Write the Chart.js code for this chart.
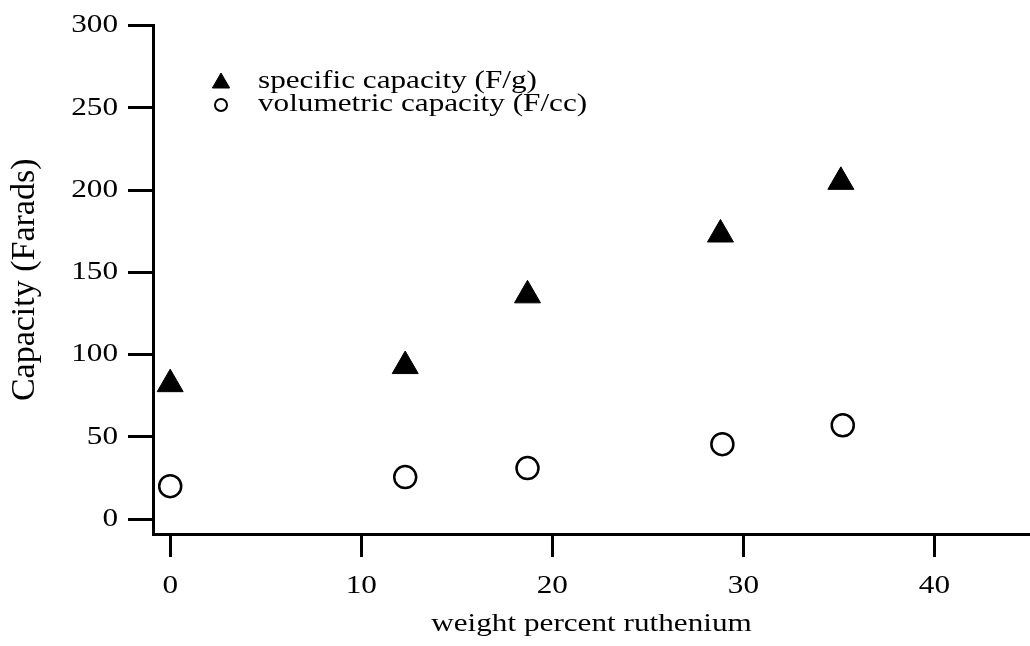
<!DOCTYPE html>
<html>
<head>
<meta charset="utf-8">
<script src="https://cdn.jsdelivr.net/npm/chart.js@4/dist/chart.umd.min.js"></script>
<style>
  html, body { margin: 0; padding: 0; background: #fff; }
  #wrap { width: 1030px; height: 646px; }
</style>
</head>
<body>
<div id="wrap"><canvas id="capChart" width="1030" height="646"></canvas></div>
<script>
// values
const ruSpecific = [0, 12.3, 18.7, 28.8, 35.1];
const specificCap = [82, 93, 136, 173, 205];
const ruVolumetric = [0, 12.3, 18.7, 28.9, 35.2];
const volumetricCap = [20, 25.5, 31, 45.5, 57];

const xTicks = [0, 10, 20, 30, 40];
const yTicks = [0, 50, 100, 150, 200, 250, 300];

const seriesNames = ['specific capacity (F/g)', 'volumetric capacity (F/cc)'];

const FONT = "'Liberation Serif', 'Times New Roman', serif";
const STRETCH = 1.2; // the scanned figure's horizontal text is wide

function toPoints(xs, ys) {
    return xs.map((x, i) => ({ x: x, y: ys[i] }));
}

const canvas = document.getElementById('capChart');
const ctx2d = canvas.getContext('2d');

// widen horizontal text around its anchor, leave rotated text alone
const plainFillText = ctx2d.fillText.bind(ctx2d);
ctx2d.fillText = function (text, x, y, maxWidth) {
    const m = this.getTransform();
    if (Math.abs(m.b) > 1e-6 || Math.abs(m.c) > 1e-6) {
        return plainFillText(text, x, y, maxWidth);
    }
    const p = m.transformPoint(new DOMPoint(x, y));
    this.save();
    this.setTransform(new DOMMatrix().translate(p.x, p.y).scale(STRETCH, 1).translate(-p.x, -p.y).multiply(m));
    plainFillText(text, x, y, maxWidth);
    this.restore();
};

// legend drawn inside the plot, top-left
const insideLegend = {
    id: 'insideLegend',
    afterDraw(chart) {
        const ctx = chart.ctx;
        const rows = [
            { y: 83, textY: 88, style: { pointStyle: 'triangle', radius: 10, rotation: 0, borderWidth: 1 }, fill: '#000' },
            { y: 105, textY: 111, style: { pointStyle: 'circle', radius: 6, rotation: 0, borderWidth: 2 }, fill: '#fff' }
        ];
        ctx.save();
        rows.forEach((r, i) => {
            ctx.fillStyle = r.fill;
            ctx.strokeStyle = '#000';
            ctx.lineWidth = r.style.borderWidth;
            Chart.helpers.drawPoint(ctx, r.style, 221, r.y);
            ctx.fillStyle = '#000';
            ctx.font = '26px ' + FONT;
            ctx.textAlign = 'left';
            ctx.textBaseline = 'alphabetic';
            ctx.fillText(seriesNames[i], 258, r.textY);
        });
        ctx.restore();
    }
};

new Chart(canvas, {
    type: 'scatter',
    data: {
        datasets: [
            {
                label: seriesNames[0],
                data: toPoints(ruSpecific, specificCap),
                pointStyle: 'triangle',
                pointRadius: 15,
                pointBackgroundColor: '#000',
                pointBorderColor: '#000',
                pointBorderWidth: 1
            },
            {
                label: seriesNames[1],
                data: toPoints(ruVolumetric, volumetricCap),
                pointStyle: 'circle',
                pointRadius: 11,
                pointBackgroundColor: '#fff',
                pointBorderColor: '#000',
                pointBorderWidth: 2.5
            }
        ]
    },
    options: {
        responsive: false,
        animation: false,
        layout: {
            autoPadding: false,
            padding: { top: 25, right: 0, bottom: 0, left: 0 }
        },
        plugins: {
            legend: { display: false },
            tooltip: { enabled: false }
        },
        scales: {
            x: {
                type: 'linear',
                min: -0.9,
                max: 45,
                afterBuildTicks: (scale) => { scale.ticks = xTicks.map(v => ({ value: v })); },
                afterFit: (scale) => { scale.height = 112; },
                border: { display: true, color: '#000', width: 3 },
                grid: {
                    drawOnChartArea: false,
                    drawTicks: true,
                    tickLength: 23,
                    tickWidth: 3,
                    tickColor: '#000'
                },
                ticks: {
                    color: '#000',
                    padding: 14,
                    maxRotation: 0,
                    font: { family: FONT, size: 26 }
                },
                title: {
                    display: true,
                    text: 'weight percent ruthenium',
                    color: '#000',
                    padding: { top: 0, bottom: 6 },
                    font: { family: FONT, size: 26 }
                }
            },
            y: {
                type: 'linear',
                min: -9.1,
                max: 300,
                afterBuildTicks: (scale) => { scale.ticks = yTicks.map(v => ({ value: v })); },
                afterFit: (scale) => { scale.width = 153; },
                border: { display: true, color: '#000', width: 3 },
                grid: {
                    drawOnChartArea: false,
                    drawTicks: true,
                    tickLength: 25,
                    tickWidth: 3,
                    tickColor: '#000'
                },
                ticks: {
                    color: '#000',
                    padding: 10,
                    font: { family: FONT, size: 26 }
                },
                title: {
                    display: true,
                    text: 'Capacity (Farads)',
                    color: '#000',
                    padding: { top: 5, bottom: 0 },
                    font: { family: FONT, size: 34 }
                }
            }
        }
    },
    plugins: [insideLegend]
});
</script>
</body>
</html>
